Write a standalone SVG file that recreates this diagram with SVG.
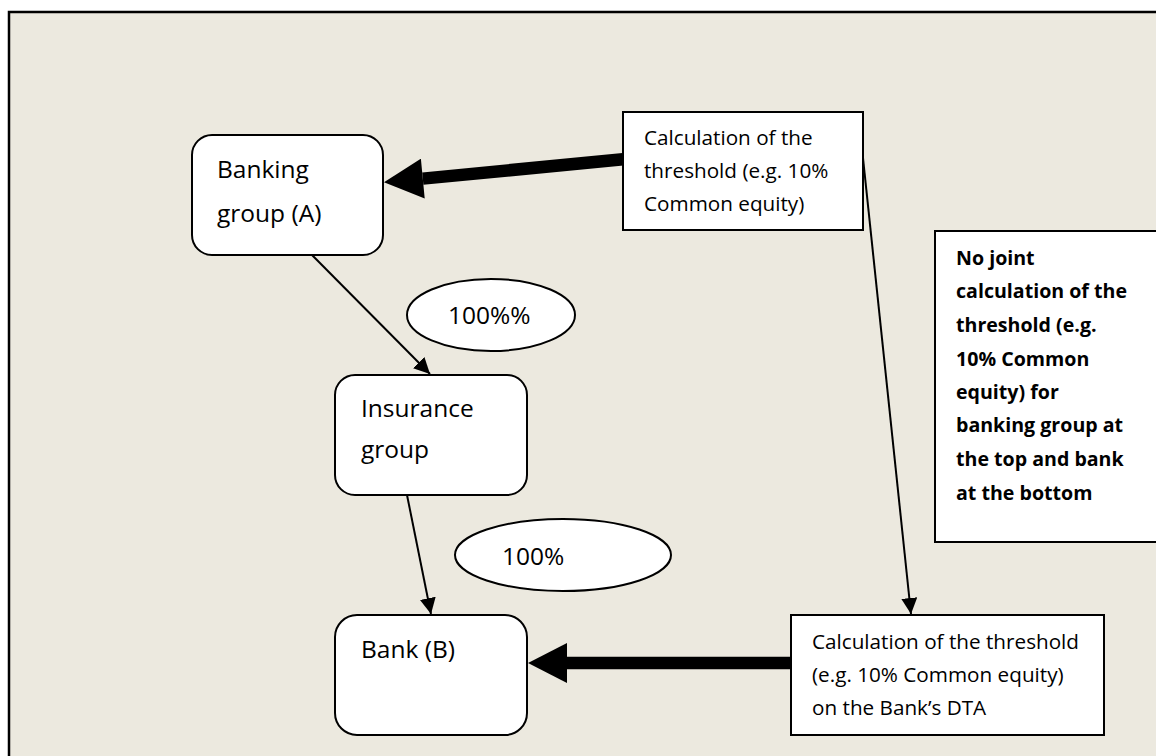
<svg xmlns="http://www.w3.org/2000/svg" width="1156" height="756" viewBox="0 0 1156 756">
<style>
.box{fill:#fff;stroke:#000;stroke-width:2}
.t{font-family:"Open Sans","Noto Sans","Liberation Sans",sans-serif;fill:#000}
.big{font-size:24.5px}
.mid{font-size:20.7px}
.bold{font-size:19.6px;font-weight:bold}
.thin{stroke:#000;stroke-width:2;fill:none}
.thick{stroke:#000;stroke-width:12.5;fill:none}
</style>
<defs>
<marker id="ah" markerUnits="userSpaceOnUse" markerWidth="16" markerHeight="16" viewBox="0 0 15 15" refX="15" refY="7.5" orient="auto">
<path d="M0,0 L15,7.5 L0,15 z" fill="#000"/>
</marker>
<marker id="bh" markerUnits="userSpaceOnUse" markerWidth="40" markerHeight="40" viewBox="0 0 38 39" refX="0" refY="19.5" orient="auto">
<path d="M0,0 L38,19.5 L0,39 z" fill="#000"/>
</marker>
</defs>
<rect x="0" y="0" width="1156" height="756" fill="#fff"/>
<rect id="frame" x="9" y="12" width="1160" height="760" fill="#ECE9DF" stroke="#000" stroke-width="2.5"/>

<g id="banking-group">
<rect class="box" x="192" y="135" width="191" height="120" rx="20"/>
<text class="t big" x="217" y="178">Banking</text>
<text class="t big" x="217" y="222">group (A)</text>
</g>

<g id="insurance-group">
<rect class="box" x="335" y="375" width="192" height="120" rx="20"/>
<text class="t big" x="361" y="417">Insurance</text>
<text class="t big" x="361" y="458">group</text>
</g>

<g id="bank-b">
<rect class="box" x="335" y="615" width="192" height="120" rx="22"/>
<text class="t big" x="361" y="658">Bank (B)</text>
</g>

<g id="pct1">
<ellipse class="box" cx="491" cy="315" rx="84" ry="36"/>
<text class="t big" x="448" y="324">100%%</text>
</g>

<g id="pct2">
<ellipse class="box" cx="563" cy="555" rx="108" ry="36"/>
<text class="t big" x="502" y="565">100%</text>
</g>

<g id="calc-top">
<rect class="box" x="623" y="112" width="240" height="118"/>
<text class="t mid" x="644" y="145">Calculation of the</text>
<text class="t mid" x="644" y="178">threshold (e.g. 10%</text>
<text class="t mid" x="644" y="211">Common equity)</text>
</g>

<g id="calc-bottom">
<rect class="box" x="791" y="615" width="313" height="120"/>
<text class="t mid" x="812" y="649">Calculation of the threshold</text>
<text class="t mid" x="812" y="682">(e.g. 10% Common equity)</text>
<text class="t mid" x="812" y="715">on the Bank’s DTA</text>
</g>

<g id="no-joint">
<rect class="box" x="935" y="231" width="240" height="311"/>
<text class="t bold" x="956" y="265">No joint</text>
<text class="t bold" x="956" y="298">calculation of the</text>
<text class="t bold" x="956" y="332">threshold (e.g.</text>
<text class="t bold" x="956" y="366">10% Common</text>
<text class="t bold" x="956" y="399">equity) for</text>
<text class="t bold" x="956" y="432">banking group at</text>
<text class="t bold" x="956" y="466">the top and bank</text>
<text class="t bold" x="956" y="500">at the bottom</text>
</g>

<g id="connectors">
<line class="thin" x1="312" y1="255" x2="430" y2="374" marker-end="url(#ah)"/>
<line class="thin" x1="407" y1="495" x2="431" y2="614" marker-end="url(#ah)"/>
<line class="thin" x1="863" y1="158" x2="911" y2="614" marker-end="url(#ah)"/>
<line class="thick" x1="623" y1="159.3" x2="422.8" y2="178.6" marker-end="url(#bh)"/>
<line class="thick" x1="791" y1="663" x2="567" y2="663" marker-end="url(#bh)"/>
</g>
</svg>
